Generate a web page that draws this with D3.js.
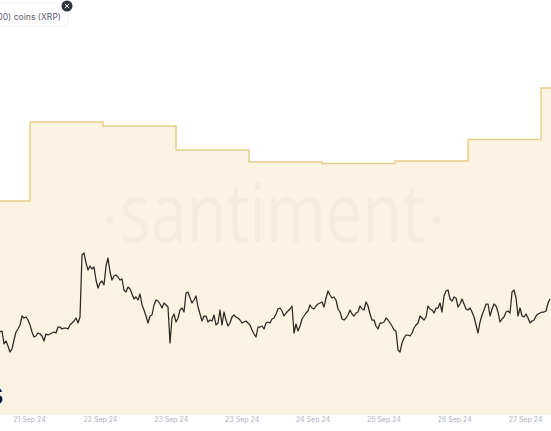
<!DOCTYPE html>
<html>
<head>
<meta charset="utf-8">
<script src="https://cdn.jsdelivr.net/npm/d3@7"></script>
<style>
html,body{margin:0;padding:0;background:#fff;overflow:hidden}
svg{display:block}
</style>
</head>
<body>
<svg id="chart" width="551" height="431"></svg>
<script>
// Coin-supply step series (y-units)
const stepDates = ["2024-09-20T15:58Z","2024-09-21T01:50Z","2024-09-22T01:50Z","2024-09-23T01:50Z","2024-09-24T01:50Z","2024-09-25T01:50Z","2024-09-26T01:50Z","2024-09-27T01:50Z","2024-09-28T01:50Z"];
const stepValues = [214,293,289,265,253,251.5,254,275.5,327];

// XRP price, milli-USD, one reading about every 39.45 minutes
const priceStart = "2024-09-20T15:58Z";
const priceStepMinutes = 39.45;
const priceValues = [
588,589,576,579,574,568,571,580,588,591,595,604,602,603,600,595,588,583,584,587,
586,584,579,586,585,586,587,588,587,593,593,591,592,592,591,595,597,599,602,597,
603,665,667,657,650,654,651,653,640,632,637,639,635,654,662,648,640,644,645,643,
640,641,630,628,633,631,626,621,623,620,
626,615,610,604,597,604,605,615,620,619,616,612,617,615,613,577,602,606,598,602,
610,612,608,627,628,622,617,620,624,613,606,599,604,604,598,600,599,605,595,597,
610,595,608,600,594,597,603,605,603,602,600,597,598,599,597,595,590,586,583,593,
593,594,591,597,598,597,601,602,606,611,
612,609,604,607,609,611,614,587,596,589,594,601,604,607,609,615,612,611,614,616,
617,618,613,622,629,625,622,623,620,611,608,601,600,602,605,610,606,604,607,608,
614,611,610,618,614,606,600,600,594,591,597,597,598,602,600,597,594,590,589,570,
568,577,582,585,585,584,587,592,595,597,
604,602,600,603,614,611,610,607,612,612,617,608,624,629,630,621,619,623,622,613,
616,621,616,611,610,612,608,603,595,587,598,605,610,616,616,604,611,616,614,608,
598,601,603,608,609,607,628,630,622,604,612,604,603,606,602,597,599,600,604,606,
607,608,608,609,617,621];

const tickDates = ["2024-09-21T01:30Z","2024-09-22T00:48Z","2024-09-23T00:06Z","2024-09-23T23:24Z","2024-09-24T22:42Z","2024-09-25T22:00Z","2024-09-26T21:18Z","2024-09-27T20:36Z"];
const legendText = "(100,000 to 1,000,000) coins (XRP)";
const watermark = "santiment";
const cornerGlyph = "s";

const W = 551, H = 431, base = 415;
const svg = d3.select("#chart");

const x = d3.scaleUtc()
  .domain([new Date("2024-09-20T15:58Z"), new Date("2024-09-28T05:06Z")])
  .range([0, W]);
const yStep = d3.scaleLinear().domain([0, 400]).range([base, 15]);
const yPrice = d3.scaleLinear().domain([500, 700]).range([420, 220]);

const stepData = stepDates.map((d, i) => ({t: new Date(d), v: stepValues[i]}));
stepData.push({t: x.domain()[1], v: stepValues[stepValues.length - 1]});
const t0 = +new Date(priceStart);
const priceData = priceValues.map((v, i) => ({t: new Date(t0 + i * priceStepMinutes * 60000), v}));

svg.append("path").datum(stepData)
  .attr("fill", "#fdf3e3")
  .attr("d", d3.area().curve(d3.curveStepAfter).x(d => x(d.t)).y0(base).y1(d => yStep(d.v)));

// watermark
const wm = svg.append("g").attr("fill", "#f5eddc");
wm.append("text").text(watermark)
  .attr("x", 120).attr("y", 241.5)
  .attr("textLength", 305).attr("lengthAdjust", "spacingAndGlyphs")
  .attr("font-family", "'Open Sans', sans-serif").attr("font-weight", 400).attr("font-size", 82);
wm.selectAll("circle").data([110, 437]).join("circle")
  .attr("cx", d => d).attr("cy", 220).attr("r", 4);

svg.append("path").datum(stepData)
  .attr("fill", "none").attr("stroke", "#e8cd8c").attr("stroke-width", 1.5)
  .attr("d", d3.line().curve(d3.curveStepAfter).x(d => x(d.t)).y(d => yStep(d.v)));

svg.append("path").datum(priceData)
  .attr("fill", "none").attr("stroke", "#2a2822").attr("stroke-width", 1.25)
  .attr("stroke-linejoin", "round")
  .attr("d", d3.line().x(d => x(d.t)).y(d => yPrice(d.v)));

// x axis
const axis = d3.axisBottom(x)
  .tickValues(tickDates.map(d => new Date(d)))
  .tickFormat(d3.utcFormat("%-d %b %y"))
  .tickSize(0).tickPadding(0);
const gx = svg.append("g").attr("transform", `translate(0,${base + 2.5})`).call(axis);
gx.select(".domain").remove();
gx.selectAll("text").attr("fill", "#afb1be")
  .attr("font-family", "Inter, sans-serif").attr("font-size", 7);

// legend box, cut by the left edge
svg.append("rect").attr("x", -120).attr("y", 3).attr("width", 188).attr("height", 23)
  .attr("rx", 3).attr("fill", "#fff").attr("stroke", "#f3f4f6");
svg.append("text").text(legendText)
  .attr("x", 61).attr("y", 20).attr("text-anchor", "end")
  .attr("fill", "#5a5c6e").attr("font-family", "Inter, sans-serif").attr("font-size", 8.6);
const close = svg.append("g").attr("transform", "translate(67,6)");
close.append("circle").attr("r", 5.5).attr("fill", "#2f3340");
close.append("path").attr("d", "M-2.2,-2.2L2.2,2.2M2.2,-2.2L-2.2,2.2")
  .attr("stroke", "#fff").attr("stroke-width", 1);

svg.append("text").text(cornerGlyph)
  .attr("x", 3.5).attr("y", 405).attr("text-anchor", "end")
  .attr("fill", "#111").attr("font-family", "Inter, sans-serif")
  .attr("font-weight", 700).attr("font-size", 32);
</script>
</body>
</html>
